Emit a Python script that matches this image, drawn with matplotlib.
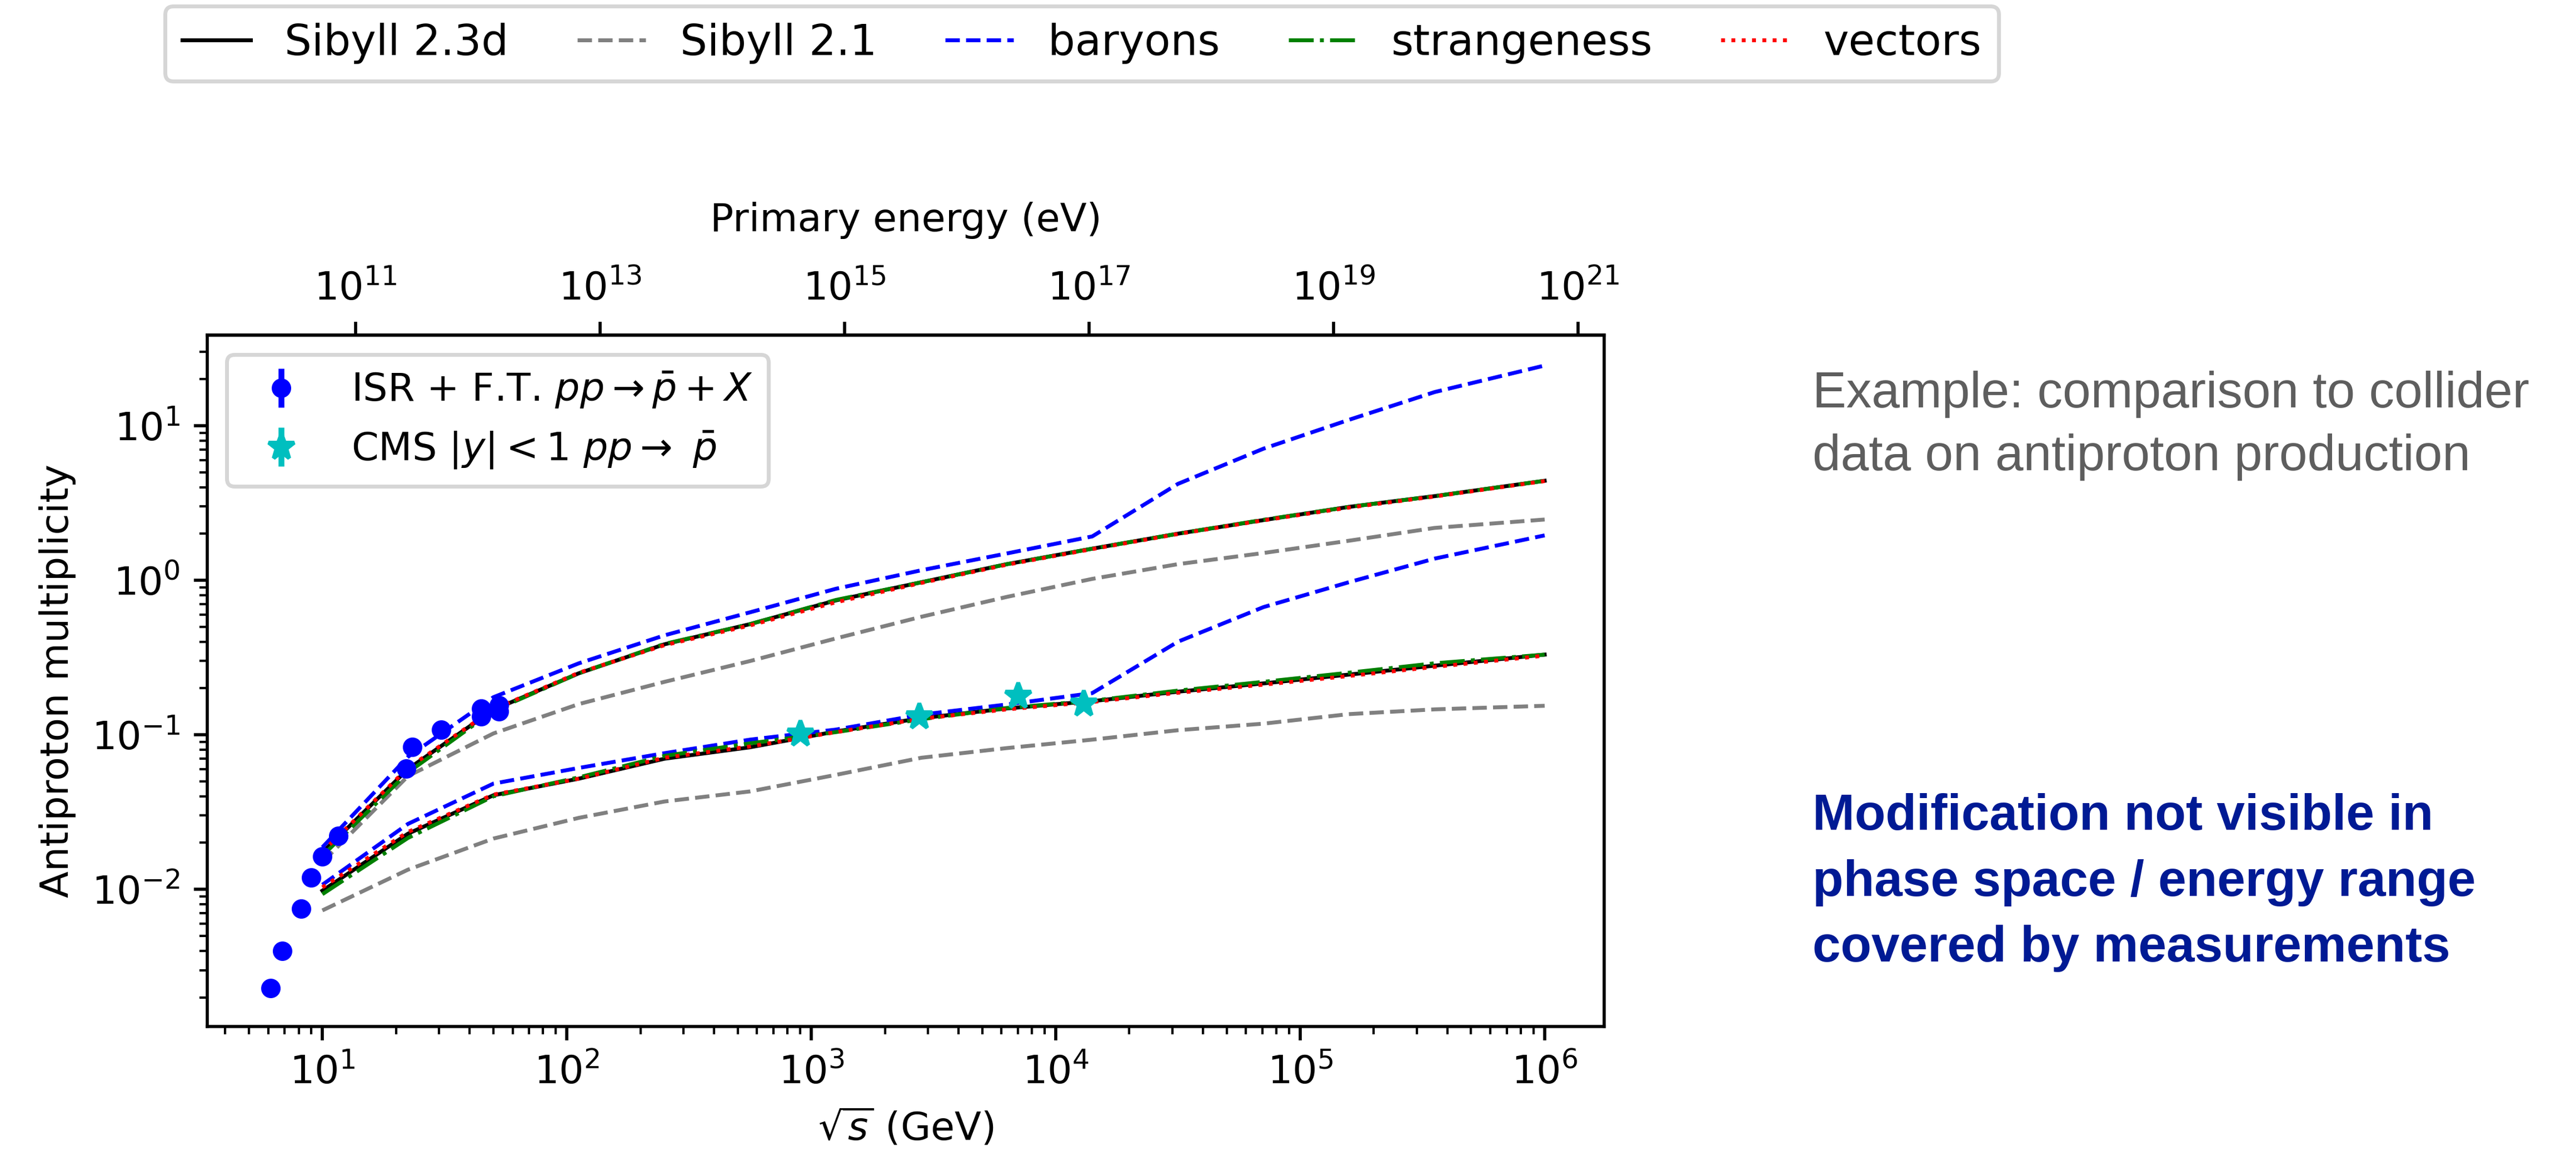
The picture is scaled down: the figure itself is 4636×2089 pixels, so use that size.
import numpy as np
import matplotlib.pyplot as plt
from matplotlib.ticker import NullLocator

M_P = 0.938  # proton mass, GeV

# model energy grid, sqrt(s) in GeV
sqrts = [10, 22.4, 50.1, 112, 251, 562, 1260, 2820, 6310, 14100,
         31600, 70800, 158000, 355000, 1000000]

# total antiproton multiplicity (upper band)
tot_sib23d = [0.0173, 0.060, 0.145, 0.25, 0.385, 0.52, 0.74, 0.97, 1.27, 1.60,
              2.0, 2.45, 2.98, 3.5, 4.4]
tot_sib21 = [0.015, 0.054, 0.102, 0.158, 0.22, 0.30, 0.42, 0.58, 0.78, 1.02,
             1.27, 1.5, 1.8, 2.18, 2.47]
tot_baryons = [0.0187, 0.072, 0.175, 0.29, 0.44, 0.62, 0.88, 1.16, 1.49, 1.92,
               4.2, 7.1, 10.9, 16.5, 24.5]
tot_strange = [0.0165, 0.057, 0.143, 0.25, 0.387, 0.52, 0.745, 0.97, 1.27, 1.60,
               2.0, 2.46, 2.98, 3.5, 4.4]
tot_vectors = [0.0175, 0.061, 0.146, 0.252, 0.38, 0.51, 0.72, 0.96, 1.26, 1.59,
               1.99, 2.44, 2.95, 3.48, 4.38]

# central rapidity |y|<1 (lower band)
cen_sib23d = [0.0098, 0.0229, 0.0406, 0.052, 0.070, 0.083, 0.105, 0.128, 0.148, 0.165,
              0.19, 0.215, 0.245, 0.28, 0.33]
cen_sib21 = [0.0073, 0.0134, 0.0213, 0.029, 0.037, 0.043, 0.055, 0.071, 0.082, 0.093,
             0.107, 0.118, 0.136, 0.146, 0.154]
cen_baryons = [0.0107, 0.0265, 0.0483, 0.061, 0.076, 0.093, 0.108, 0.135, 0.157, 0.186,
               0.40, 0.67, 0.97, 1.38, 1.95]
cen_strange = [0.0093, 0.0215, 0.040, 0.053, 0.073, 0.088, 0.104, 0.126, 0.149, 0.166,
               0.193, 0.22, 0.252, 0.29, 0.33]
cen_vectors = [0.0103, 0.0235, 0.041, 0.052, 0.071, 0.084, 0.104, 0.127, 0.146, 0.163,
               0.187, 0.211, 0.24, 0.275, 0.325]

# ISR + fixed target data
isr_sqrts = [6.15, 6.85, 8.2, 9.0, 10.0, 11.6, 22.0, 23.3, 30.7, 44.7, 44.7, 52.8, 52.8]
isr_mult = [0.0023, 0.0040, 0.0075, 0.0119, 0.0163, 0.0222, 0.0605, 0.0834, 0.108,
            0.132, 0.148, 0.142, 0.155]
isr_err = [0.0001, 0.0002, 0.0003, 0.0005, 0.0007, 0.001, 0.003, 0.006, 0.006,
           0.01, 0.01, 0.012, 0.012]

# CMS |y|<1
cms_sqrts = [900, 2760, 7000, 13000]
cms_mult = [0.1016, 0.1315, 0.179, 0.159]
cms_err = [0.005, 0.007, 0.01, 0.009]

models = ['Sibyll 2.3d', 'Sibyll 2.1', 'baryons', 'strangeness', 'vectors']
styles = [('k', '-'), ('gray', '--'), ('b', '--'), ('g', '-.'), ('r', ':')]


def sqrts_to_elab(x):
    x = np.asarray(x, dtype=float)
    return x**2 / (2 * M_P) * 1e9


def elab_to_sqrts(e):
    e = np.clip(np.asarray(e, dtype=float), 1e-30, None)
    return np.sqrt(2 * M_P * e / 1e9)


plt.rcParams['font.size'] = 10
fig = plt.figure(figsize=(4636 / 504, 2089 / 504), dpi=504)
ax = fig.add_axes([0.0805, 0.1158, 0.5422, 0.5955])

tot = [tot_sib23d, tot_sib21, tot_baryons, tot_strange, tot_vectors]
cen = [cen_sib23d, cen_sib21, cen_baryons, cen_strange, cen_vectors]
handles = []
for ys_t, ys_c, (c, ls) in zip(tot, cen, styles):
    l, = ax.plot(sqrts, ys_t, color=c, ls=ls, lw=1.0)
    ax.plot(sqrts, ys_c, color=c, ls=ls, lw=1.0)
    handles.append(l)

ax.errorbar(isr_sqrts, isr_mult, yerr=isr_err, fmt='o', color='b', ms=4,
            label=r'ISR + F.T. $pp \rightarrow \bar{p} + X$')
ax.errorbar(cms_sqrts, cms_mult, yerr=cms_err, fmt='*', color='c', ms=7,
            label=r'CMS $|y| < 1$ $pp \rightarrow$ $\bar{p}$')

ax.set_xscale('log')
ax.set_yscale('log')
ax.set_xlim(3.385, 1.75e6)
ax.set_ylim(1.294e-3, 38.5)
ax.set_xlabel(r'$\sqrt{s}$ (GeV)')
ax.set_ylabel('Antiproton multiplicity')
ax.legend(loc='upper left')

secax = ax.secondary_xaxis('top', functions=(sqrts_to_elab, elab_to_sqrts))
secax.set_xticks([1e11, 1e13, 1e15, 1e17, 1e19, 1e21])
secax.xaxis.set_minor_locator(NullLocator())
secax.set_xlabel('Primary energy (eV)', labelpad=10)

fig.legend(handles, models, loc='upper center', bbox_to_anchor=(0.42, 1.0134),
           ncol=5, fontsize=11, handlelength=1.6, columnspacing=1.6)

# notes on the right
tx = 3262 / 4636
for txt, py in [('Example: comparison to collider', 733),
                ('data on antiproton production', 846)]:
    fig.text(tx, 1 - py / 2089, txt, fontsize=13, color='#5e5e5e',
             family='Liberation Sans', va='baseline')
for txt, py in [('Modification not visible in', 1493),
                ('phase space / energy range', 1612),
                ('covered by measurements', 1730)]:
    fig.text(tx, 1 - py / 2089, txt, fontsize=13, color='#001a94',
             family='Liberation Sans', weight='bold', va='baseline')

fig.savefig('out.png', dpi=504)
